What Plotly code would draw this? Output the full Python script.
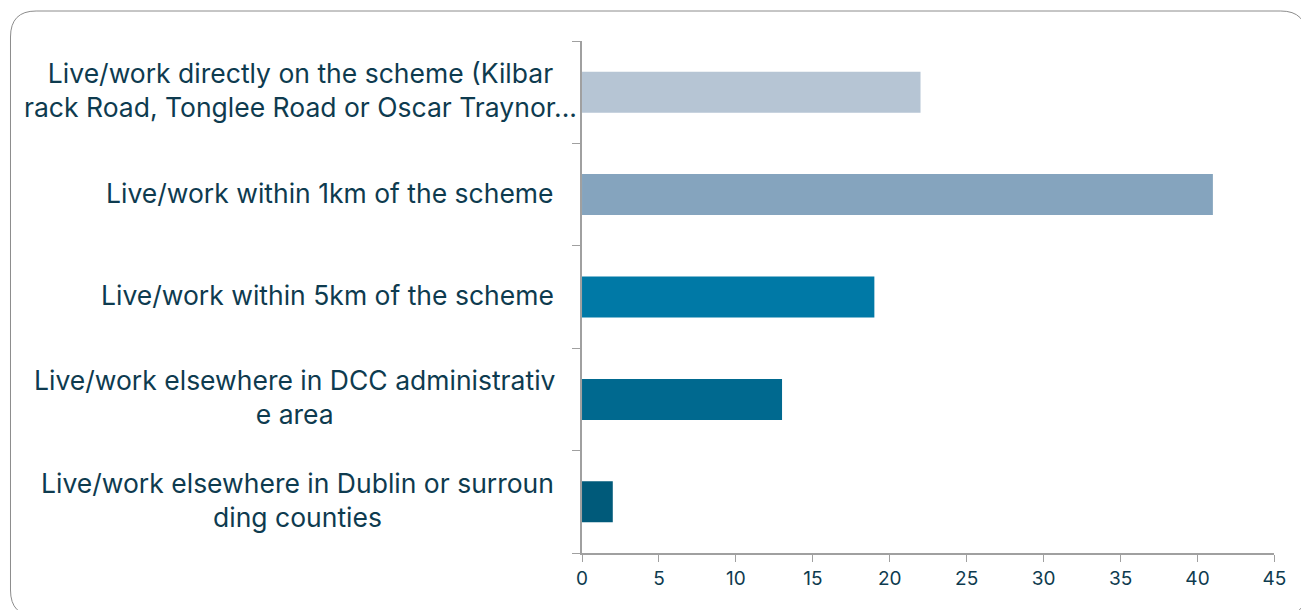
import plotly.graph_objects as go

categories = [
    "Live/work directly on the scheme (Kilbar<br>rack Road, Tonglee Road or Oscar Traynor...",
    "Live/work within 1km of the scheme",
    "Live/work within 5km of the scheme",
    "Live/work elsewhere in DCC administrativ<br>e area",
    "Live/work elsewhere in Dublin or surroun<br>ding counties",
]
values = [22, 41, 19, 13, 2]
colors = ["#B6C5D4", "#85A4BE", "#0079A6", "#00698F", "#005A7A"]
x_ticks = [0, 5, 10, 15, 20, 25, 30, 35, 40, 45]

W, H = 1301, 610
TEXT = "#0E3B4F"
FONT = "Inter"


def px(x):
    # horizontal pixel -> paper fraction (with empirical render correction)
    return (x - 4.5) / 0.987 / W


ids = list(range(len(categories)))

fig = go.Figure(go.Bar(
    x=values, y=ids, orientation="h",
    marker=dict(color=colors, line=dict(width=0)),
    width=0.4, hoverinfo="x",
))

x0, x1 = px(581), px(1274)
y0, y1 = 1 - 553 / H, 1 - 41 / H

label_right = [578, 555, 555, 557, 555]
annotations = []
for i, c in enumerate(categories):
    annotations.append(dict(
        x=px(label_right[i]), xref="paper", y=i, yref="y", text=c, showarrow=False,
        xanchor="right", yanchor="middle", align="center", yshift=2,
        font=dict(family=FONT, size=26.5, color=TEXT),
    ))

# rounded border in paper coords
L, T, R, B = px(9), 1 - 11 / H, px(1306), 1 - 616 / H
rx, ry = 26 / W, 26 / H
path = (f"M {L+rx},{T} L {R-rx},{T} Q {R},{T} {R},{T-ry} L {R},{B+ry} Q {R},{B} {R-rx},{B} "
        f"L {L+rx},{B} Q {L},{B} {L},{B+ry} L {L},{T-ry} Q {L},{T} {L+rx},{T} Z")

fig.update_layout(
    autosize=True,
    margin=dict(l=0, r=0, t=0, b=0),
    paper_bgcolor="white", plot_bgcolor="white",
    showlegend=False,
    annotations=annotations,
    shapes=[dict(type="path", path=path, xref="paper", yref="paper",
                 line=dict(color="#8C8C8C", width=1), layer="below")],
    xaxis=dict(domain=[x0, x1], range=[0, 45], tickvals=x_ticks,
               ticks="outside", ticklen=7, tickcolor="#A0A0A0",
               showline=True, linecolor="#A0A0A0", linewidth=1.5,
               showgrid=False, zeroline=False,
               tickfont=dict(family=FONT, size=19, color=TEXT)),
    yaxis=dict(domain=[y0, y1], type="linear", range=[4.5, -0.5],
               tickvals=[-0.5, 0.5, 1.5, 2.5, 3.5, 4.5], ticktext=[""] * 6,
               ticks="outside", ticklen=8, tickcolor="#A0A0A0",
               showline=True, linecolor="#A0A0A0", linewidth=1.5,
               showgrid=False, zeroline=False),
    font=dict(family=FONT, color=TEXT),
)

fig.write_html(
    "out.html",
    default_width="100vw",
    default_height="100vh",
    config={"displayModeBar": False},
    post_script=(
        "document.documentElement.style.overflow='hidden';"
        "document.body.style.margin='0';document.body.style.overflow='hidden';"
        "var gd=document.getElementById('{plot_id}');Plotly.Plots.resize(gd);"
    ),
)
